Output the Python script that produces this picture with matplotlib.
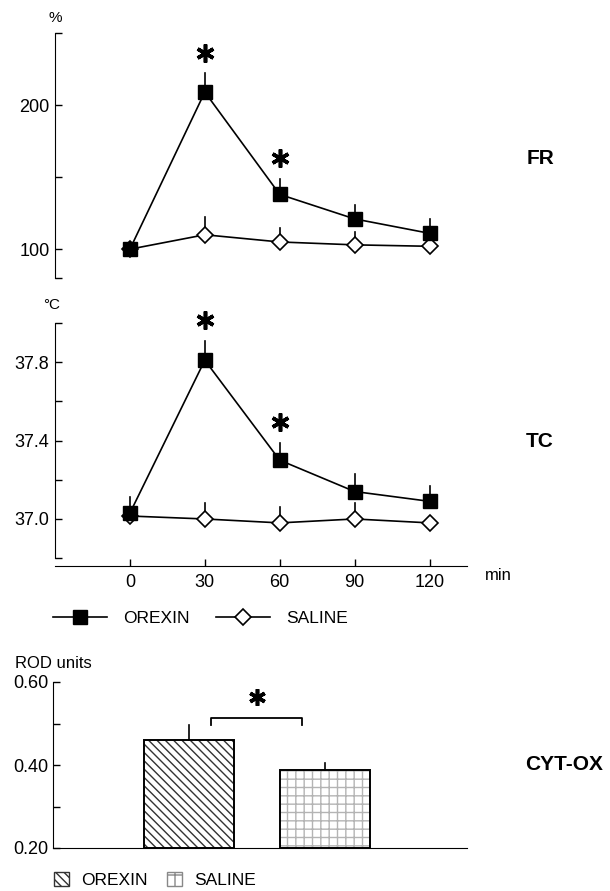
import matplotlib.pyplot as plt
from matplotlib.lines import Line2D
from matplotlib.patches import Patch

plt.rcParams["font.family"] = ["Liberation Sans", "DejaVu Sans"]
plt.rcParams["font.size"] = 12
plt.rcParams["hatch.linewidth"] = 1.0

# time points (min)
minutes = [0, 30, 60, 90, 120]

# FR (%)
fr_orexin = [100, 209, 138, 121, 111]
fr_orexin_err = [0, 13, 11, 10, 10]
fr_saline = [100, 110, 105, 103, 102]
fr_saline_err = [0, 12, 10, 9, 0]

# TC (deg C)
tc_orexin = [37.03, 37.81, 37.30, 37.14, 37.09]
tc_orexin_err = [0.08, 0.10, 0.09, 0.09, 0.08]
tc_saline = [37.015, 37.00, 36.98, 37.00, 36.98]
tc_saline_err = [0.0, 0.08, 0.08, 0.08, 0.0]

# CYT-OX (ROD units)
groups = ["OREXIN", "SALINE"]
cyt_vals = [0.460, 0.388]
cyt_err = [0.036, 0.017]

fig = plt.figure(figsize=(6.1, 8.91), dpi=100)
W, H = 610, 891


def px_axes(x0, y0, x1, y1):
    return fig.add_axes([x0 / W, 1 - y1 / H, (x1 - x0) / W, (y1 - y0) / H])


def draw_series(ax, ys_o, err_o, ys_s, err_s):
    # error bars, upward only, no caps
    for x, y, e in zip(minutes, ys_s, err_s):
        if e > 0:
            ax.plot([x, x], [y, y + e], color="black", lw=1.2, zorder=2)
    for x, y, e in zip(minutes, ys_o, err_o):
        if e > 0:
            ax.plot([x, x], [y, y + e], color="black", lw=1.2, zorder=4)
    ax.plot(minutes, ys_s, color="black", lw=1.2, marker="D", ms=8,
            mfc="white", mec="black", mew=1.2, zorder=3)
    ax.plot(minutes, ys_o, color="black", lw=1.2, marker="s", ms=9.5,
            mfc="black", mec="black", zorder=5)


def star(ax, x, y, size=13):
    ax.plot([x], [y], marker=(6, 2, 0), ms=size, mew=2.6, color="black",
            clip_on=False, zorder=6)


# ---- FR panel
ax1 = px_axes(55, 33, 467, 278)
draw_series(ax1, fr_orexin, fr_orexin_err, fr_saline, fr_saline_err)
ax1.set_xlim(-30, 135)
ax1.set_ylim(80, 250)
ax1.set_yticks([80, 100, 150, 200, 250])
ax1.set_yticklabels(["", "100", "", "200", ""])
ax1.spines[["top", "right", "bottom"]].set_visible(False)
ax1.set_xticks([])
ax1.tick_params(axis="y", direction="in", length=5, width=1, labelsize=13, pad=4)
for i in (1, 2):
    star(ax1, minutes[i], fr_orexin[i] + fr_orexin_err[i] + 14)
fig.text(55 / W, 1 - 18 / H, "%", fontsize=11, ha="center", va="center")
fig.text(540 / W, 1 - 158 / H, "FR", fontsize=15, fontweight="bold",
         ha="center", va="center")

# ---- TC panel
ax2 = px_axes(55, 323, 467, 566)
draw_series(ax2, tc_orexin, tc_orexin_err, tc_saline, tc_saline_err)
ax2.set_xlim(-30, 135)
ax2.set_ylim(36.76, 38.0)
ax2.set_yticks([36.8, 37.0, 37.2, 37.4, 37.6, 37.8, 38.0])
ax2.set_yticklabels(["", "37.0", "", "37.4", "", "37.8", ""])
ax2.spines["left"].set_bounds(36.8, 38.0)
ax2.spines[["top", "right"]].set_visible(False)
ax2.set_xticks(minutes)
ax2.tick_params(axis="both", direction="in", length=5, width=1, labelsize=13, pad=4)
ax2.tick_params(axis="x", pad=6)
for i in (1, 2):
    star(ax2, minutes[i], tc_orexin[i] + tc_orexin_err[i] + 0.105)
fig.text(52 / W, 1 - 305 / H, "°C", fontsize=11, ha="center", va="center")
fig.text(498 / W, 1 - 576 / H, "min", fontsize=12, ha="center", va="center")
fig.text(540 / W, 1 - 442 / H, "TC", fontsize=15, fontweight="bold",
         ha="center", va="center")

line_handles = [
    Line2D([], [], color="black", lw=1.2, marker="s", ms=9.5, mfc="black"),
    Line2D([], [], color="black", lw=1.2, marker="D", ms=8, mfc="white", mew=1.2),
]
fig.legend(line_handles, groups, loc="center left",
           bbox_to_anchor=(53 / W, 1 - 618 / H), ncol=2, frameon=False,
           borderpad=0, borderaxespad=0, handlelength=3.1, handletextpad=0.92,
           columnspacing=1.56, fontsize=12.5)

# ---- CYT-OX panel
ax3 = px_axes(53, 682, 467, 848)
xpos = [1, 2]
bw = 0.66
ax3.bar(xpos[0], cyt_vals[0] - 0.2, bottom=0.2, width=bw, color="white",
        edgecolor="#333333", hatch="\\\\\\\\", lw=0)
ax3.bar(xpos[1], cyt_vals[1] - 0.2, bottom=0.2, width=bw, color="white",
        edgecolor="#b4b4b4", hatch="++", lw=0)
ax3.bar(xpos, [v - 0.2 for v in cyt_vals], bottom=0.2, width=bw,
        fill=False, edgecolor="black", lw=1.4)
for x, v, e in zip(xpos, cyt_vals, cyt_err):
    ax3.plot([x, x], [v, v + e], color="black", lw=1.2)
ax3.set_xlim(0, 3.04)
ax3.set_ylim(0.2, 0.6)
ax3.set_yticks([0.2, 0.3, 0.4, 0.5, 0.6])
ax3.set_yticklabels(["0.20", "", "0.40", "", "0.60"])
ax3.spines[["top", "right"]].set_visible(False)
ax3.set_xticks([])
ax3.tick_params(axis="y", direction="in", length=5, width=1, labelsize=13, pad=3)
# significance bracket
ax3.plot([1.16, 1.16, 1.83, 1.83], [0.496, 0.513, 0.513, 0.496],
         color="black", lw=1.3, clip_on=False)
star(ax3, 1.5, 0.564, size=12)
fig.text(15 / W, 1 - 663 / H, "ROD units", fontsize=12, ha="left", va="center")
fig.text(564 / W, 1 - 765 / H, "CYT-OX", fontsize=15, fontweight="bold",
         ha="center", va="center")

bar_handles = [
    Patch(facecolor="white", edgecolor="#333333", hatch="\\\\\\\\", lw=1),
    Patch(facecolor="white", edgecolor="#888888", hatch="+", lw=1),
]
fig.legend(bar_handles, groups, loc="center left",
           bbox_to_anchor=(54 / W, 1 - 880 / H), ncol=2, frameon=False,
           borderpad=0, borderaxespad=0, handlelength=0.86, handleheight=0.86,
           handletextpad=0.69, columnspacing=1.15, fontsize=12.5)

fig.savefig("out.png", dpi=100)
